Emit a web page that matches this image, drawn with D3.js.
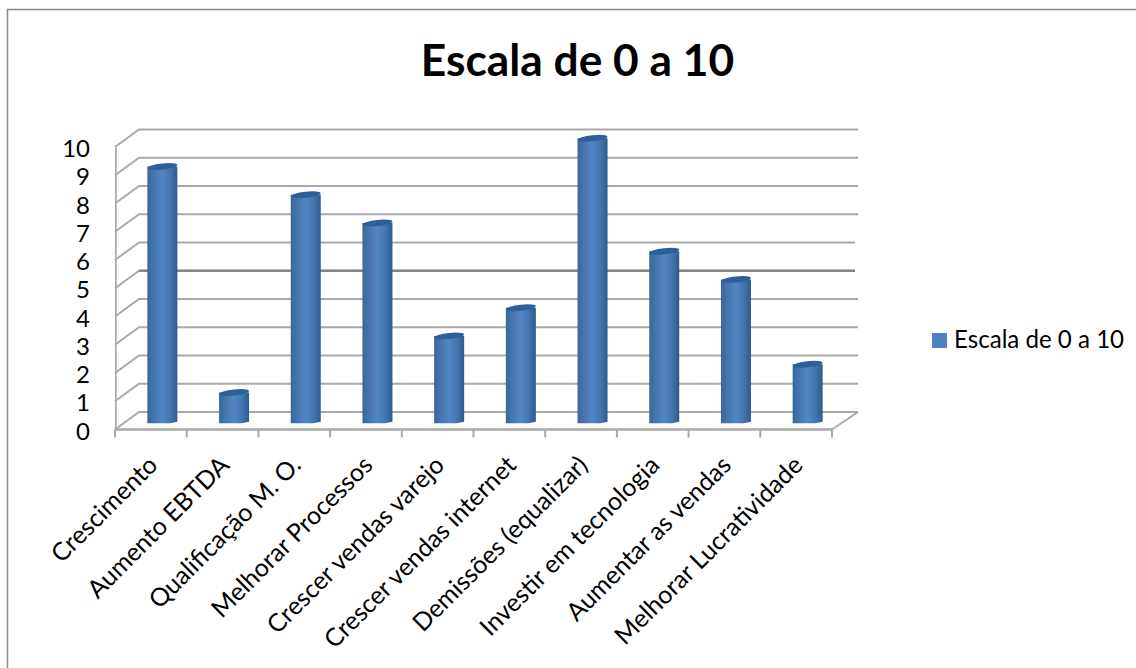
<!DOCTYPE html>
<html>
<head>
<meta charset="utf-8">
<script src="https://cdn.jsdelivr.net/npm/d3@7"></script>
<style>
  html, body { margin: 0; padding: 0; background: #fff; }
  svg { display: block; }
  text { font-family: Lato, "Open Sans", sans-serif; fill: #000; }
</style>
</head>
<body>
<div class="chart"></div>
<script>
const categories = ["Crescimento", "Aumento EBTDA", "Qualificação M. O.", "Melhorar Processos", "Crescer vendas varejo",
  "Crescer vendas internet", "Demissões (equalizar)", "Investir em tecnologia", "Aumentar as vendas", "Melhorar Lucratividade"];
const values = [9, 1, 8, 7, 3, 4, 10, 6, 5, 2];
const yTicks = [0, 1, 2, 3, 4, 5, 6, 7, 8, 9, 10];
const seriesName = "Escala de 0 a 10";

const svg_width = 1136;
const svg_height = 668;
const depth_x = 24;   // fake 3d offset of the back wall
const depth_y = 17.5;
const grid_color = "#a9a9a9";

const svg = d3.select(".chart").append("svg")
  .attr("width", svg_width).attr("height", svg_height);

const defs = svg.append("defs");
const grad = defs.append("linearGradient").attr("id", "cyl");
grad.append("stop").attr("offset", "0%").attr("stop-color", "#3a6699");
grad.append("stop").attr("offset", "22%").attr("stop-color", "#4775ad");
grad.append("stop").attr("offset", "50%").attr("stop-color", "#5186c6");
grad.append("stop").attr("offset", "75%").attr("stop-color", "#4476b0");
grad.append("stop").attr("offset", "100%").attr("stop-color", "#2f5a8b");
// user space region, straight lines have an empty bounding box
defs.append("filter").attr("id", "soft")
  .attr("filterUnits", "userSpaceOnUse")
  .attr("x", 0).attr("y", 0).attr("width", svg_width).attr("height", svg_height)
  .append("feGaussianBlur").attr("stdDeviation", 0.5);

// page border, only top and left are visible
svg.append("path")
  .attr("d", `M7.5,${svg_height} V9.5 H${svg_width}`)
  .attr("fill", "none").attr("stroke", "#8a8a8a").attr("stroke-width", 1.5);

const xScale = d3.scaleBand().domain(categories).range([115, 832]);
const yScale = d3.scaleLinear([0, 10], [429.5, 147]);

const grid = svg.append("g").attr("filter", "url(#soft)");

// back wall lines with the slanted part on the side wall
grid.selectAll(".grid")
  .data(yTicks)
  .enter()
  .append("path")
  .attr("class", "grid")
  .attr("d", d => `M115,${yScale(d)} L139,${yScale(d) - depth_y} H${d == 5 || d == 6 ? 855 : 858}`)
  .attr("fill", "none")
  .attr("stroke", grid_color)
  .attr("stroke-width", 2);
grid.append("line")
  .attr("x1", 139).attr("x2", 855)
  .attr("y1", yScale(5) - depth_y).attr("y2", yScale(5) - depth_y)
  .attr("stroke", "#858585").attr("stroke-width", 2.5);

// floor right edge
grid.append("line")
  .attr("x1", 832).attr("y1", yScale(0))
  .attr("x2", 858).attr("y2", yScale(0) - depth_y)
  .attr("stroke", grid_color).attr("stroke-width", 2);

// y axis
const yAxis = d3.axisLeft(yScale).tickValues(yTicks).tickSize(9).tickPadding(16).tickSizeOuter(0);
const yAxisDraw = svg.append("g").attr("transform", "translate(115,0)").call(yAxis);
yAxisDraw.select(".domain").attr("stroke", grid_color).attr("stroke-width", 2.5).attr("filter", "url(#soft)");
yAxisDraw.selectAll(".tick line").attr("stroke", grid_color).attr("stroke-width", 2).attr("filter", "url(#soft)");
yAxisDraw.selectAll("text").style("font-size", "24px").attr("y", 2);
yAxisDraw.selectAll("text").attr("x", -25);

// x axis, ticks sit on the band edges
svg.append("line")
  .attr("x1", 115).attr("x2", 832)
  .attr("y1", yScale(0)).attr("y2", yScale(0))
  .attr("stroke", grid_color).attr("stroke-width", 2.5).attr("filter", "url(#soft)");
svg.selectAll(".xtick")
  .data(categories.concat("end"))
  .enter()
  .append("line")
  .attr("class", "xtick")
  .attr("x1", (d, i) => 115 + i * xScale.step())
  .attr("x2", (d, i) => 115 + i * xScale.step())
  .attr("y1", yScale(0)).attr("y2", yScale(0) + 8)
  .attr("stroke", grid_color).attr("stroke-width", 2).attr("filter", "url(#soft)");

const xAxis = d3.axisBottom(xScale).tickSize(0);
const xAxisDraw = svg.append("g").attr("transform", `translate(0,${yScale(0)})`).call(xAxis);
xAxisDraw.select(".domain").remove();
xAxisDraw.selectAll("text")
  .style("font-size", "25px")
  .attr("text-anchor", "end")
  .attr("transform", "translate(2,31) rotate(-45)")
  .attr("dy", "0.35em")
  .attr("y", 0);

// cylinders
const barWidth = 30;
const barCx = d => xScale(d) + xScale.bandwidth() / 2 + depth_x / 2 - 0.5;
const barBase = yScale(0) - depth_y / 2;
const bars = svg.selectAll(".bar")
  .data(categories.map((c, i) => ({ cat: c, val: values[i] })))
  .enter()
  .append("g")
  .attr("class", "bar")
  .attr("filter", "url(#soft)");

bars.append("path")
  .attr("d", d => {
    const cx = barCx(d.cat), top = yScale(d.val) - depth_y / 2;
    return `M${cx - barWidth / 2},${top} V${barBase + 2.5}
      H${cx + barWidth / 4} L${cx + barWidth / 2},${barBase + 1} V${top} Z`;
  })
  .attr("fill", "url(#cyl)");

bars.append("ellipse")
  .attr("transform", d => `translate(${barCx(d.cat)},${yScale(d.val) - depth_y / 2}) rotate(-6)`)
  .attr("rx", barWidth / 2)
  .attr("ry", 3)
  .attr("fill", "#2f5f96");

// title
svg.append("text")
  .attr("x", 577.5).attr("y", 76)
  .attr("text-anchor", "middle")
  .style("font-size", "44.3px").style("font-weight", "bold")
  .text(seriesName);

// legend
svg.append("rect")
  .attr("x", 932).attr("y", 333).attr("width", 15).attr("height", 15)
  .attr("fill", "#4f81bd");
svg.append("text")
  .attr("x", 954).attr("y", 348)
  .style("font-size", "24.1px")
  .text(seriesName);
</script>
</body>
</html>
